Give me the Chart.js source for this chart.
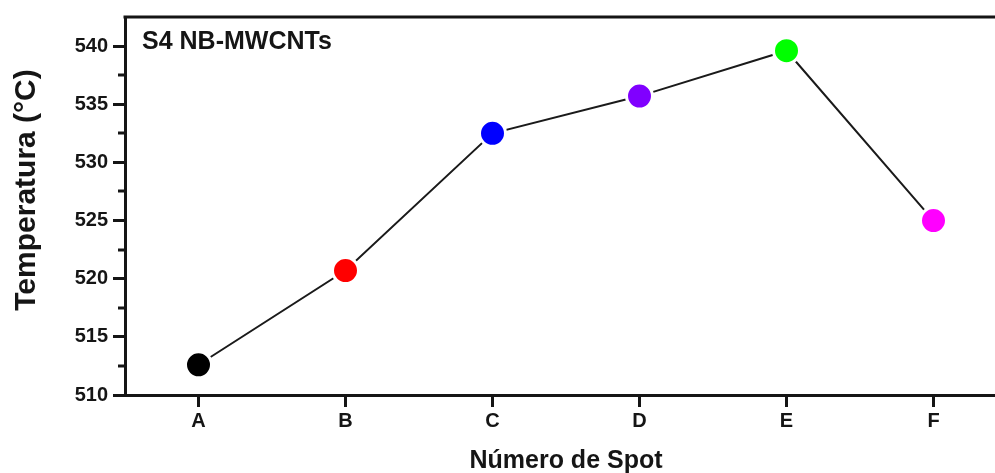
<!DOCTYPE html>
<html>
<head>
<meta charset="utf-8">
<script src="https://cdn.jsdelivr.net/npm/chart.js@4.4.1/dist/chart.umd.min.js"></script>
<style>
  html, body { margin: 0; padding: 0; background: #fff; overflow: hidden; }
  #wrap { width: 995px; height: 473px; overflow: hidden; position: relative; }
  #grafica { position: absolute; left: 0; top: 0; width: 1012px; height: 473px; }
</style>
</head>
<body>
<div id="wrap"><canvas id="grafica" width="1012" height="473"></canvas></div>
<script>
// Temperatura por spot
const spots = ['A', 'B', 'C', 'D', 'E', 'F'];
const temperaturas = [512.6, 520.7, 532.5, 535.7, 539.6, 525.0];
const coloresSpot = ['#000000', '#ff0000', '#0000ff', '#8000ff', '#00ff00', '#ff00ff'];
const ticksY = [510, 515, 520, 525, 530, 535, 540];
const ticksMenoresY = [512.5, 517.5, 522.5, 527.5, 532.5, 537.5];

const fuente = "'Liberation Sans', Arial, sans-serif";
const tinta = '#151515';

// marco, ticks menores, titulo del eje y y rotulo de muestra
const extras = {
  id: 'extras',
  afterDraw(chart) {
    const { ctx, chartArea } = chart;
    const y = chart.scales.y;
    ctx.save();
    ctx.strokeStyle = tinta;
    ctx.lineWidth = 3;
    ctx.beginPath();
    ctx.moveTo(chartArea.left - 1.5, chartArea.top);
    ctx.lineTo(chartArea.right, chartArea.top);
    ctx.lineTo(chartArea.right, chartArea.bottom);
    ctx.stroke();

    ticksMenoresY.forEach(v => {
      const py = Math.round(y.getPixelForValue(v));
      ctx.beginPath();
      ctx.moveTo(chartArea.left, py);
      ctx.lineTo(chartArea.left - 7, py);
      ctx.stroke();
    });

    ctx.fillStyle = tinta;
    ctx.font = 'bold 25px ' + fuente;
    ctx.textBaseline = 'middle';
    ctx.fillText('S4 NB-MWCNTs', chartArea.left + 17, 42);

    ctx.translate(27, 190);
    ctx.rotate(-Math.PI / 2);
    ctx.textAlign = 'center';
    ctx.font = 'bold 30px ' + fuente;
    ctx.fillText('Temperatura (°C)', 0, 0);
    ctx.restore();
  }
};

new Chart(document.getElementById('grafica').getContext('2d'), {
  type: 'line',
  data: {
    labels: spots,
    datasets: [{
      data: temperaturas,
      borderColor: '#1a1a1a',
      borderWidth: 2,
      tension: 0,
      pointRadius: 13,
      pointHoverRadius: 13,
      pointBorderWidth: 3,
      pointBorderColor: '#ffffff',
      pointBackgroundColor: coloresSpot
    }]
  },
  plugins: [extras],
  options: {
    responsive: false,
    animation: false,
    layout: { autoPadding: false, padding: { top: 15, right: 5, left: 0, bottom: 0 } },
    plugins: {
      legend: { display: false },
      tooltip: { enabled: false }
    },
    scales: {
      x: {
        type: 'category',
        offset: true,
        afterFit: s => { s.height = 78; },
        grid: {
          drawOnChartArea: false,
          tickLength: 12,
          tickWidth: 3,
          tickColor: tinta,
          offset: false
        },
        border: { display: true, color: tinta, width: 3 },
        ticks: {
          color: tinta,
          padding: 2,
          font: { family: fuente, size: 20, weight: 'bold' }
        },
        title: {
          display: true,
          text: 'Número de Spot',
          color: tinta,
          padding: { top: 0, bottom: -3 },
          font: { family: fuente, size: 25, weight: 'bold' }
        }
      },
      y: {
        min: 510,
        max: 542.5,
        afterFit: s => { s.width = 125; },
        afterBuildTicks: s => { s.ticks = ticksY.map(v => ({ value: v })); },
        grid: {
          drawOnChartArea: false,
          tickLength: 12,
          tickWidth: 3,
          tickColor: tinta
        },
        border: { display: true, color: tinta, width: 3 },
        ticks: {
          color: tinta,
          padding: 5,
          font: { family: fuente, size: 20, weight: 'bold' }
        }
      }
    }
  }
});
</script>
</body>
</html>
